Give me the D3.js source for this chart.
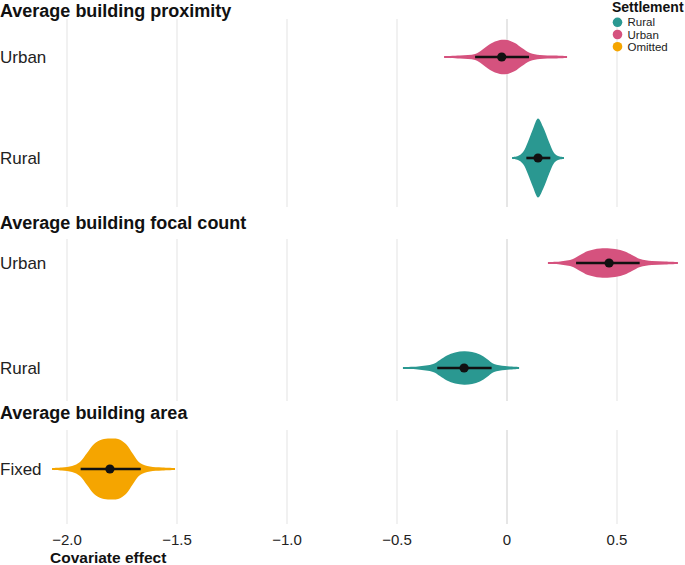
<!DOCTYPE html>
<html>
<head>
<meta charset="utf-8">
<script src="https://cdn.jsdelivr.net/npm/d3@7/dist/d3.min.js"></script>
<style>
  html, body { margin: 0; padding: 0; background: #fff; }
  svg { display: block; font-family: "Liberation Sans", Arial, Helvetica, sans-serif; }
</style>
</head>
<body>
<svg id="chart" width="685" height="565"></svg>
<script>
// ---------- DATA ----------
const panelTitles = ["Average building proximity", "Average building focal count", "Average building area"];
const panelRows = [["Urban", "Rural"], ["Urban", "Rural"], ["Fixed"]];
const rowSettlement = [["Urban", "Rural"], ["Urban", "Rural"], ["Omitted"]];

const legendLabels = ["Rural", "Urban", "Omitted"];

const tickValues = [-2.0, -1.5, -1.0, -0.5, 0, 0.5];
const tickLabels = ["\u22122.0", "\u22121.5", "\u22121.0", "\u22120.5", "0", "0.5"];

// point estimates and interval ends
const estimates = [[-0.024, 0.141], [0.464, -0.195], [-1.805]];
const lowerEnds = [[-0.145, 0.088], [0.314, -0.317], [-1.938]];
const upperEnds = [[0.100, 0.197], [0.603, -0.070], [-1.665]];

// density profiles: [value, density]
const densProxUrban = [[-0.286,0.10],[-0.214,0.15],[-0.145,0.30],[-0.114,0.70],[-0.077,1.30],[-0.032,1.70],[0.000,1.70],[0.036,1.40],[0.068,0.90],[0.105,0.40],[0.150,0.20],[0.218,0.15],[0.273,0.10]];
const densProxRural = [[0.023,0.10],[0.050,0.20],[0.073,0.60],[0.095,1.60],[0.118,2.90],[0.141,3.95],[0.164,3.10],[0.191,1.60],[0.214,0.50],[0.232,0.20],[0.259,0.10]];
const densFocalUrban = [[0.186,0.10],[0.241,0.15],[0.300,0.40],[0.332,0.80],[0.368,1.20],[0.423,1.45],[0.491,1.40],[0.536,1.15],[0.568,0.80],[0.605,0.40],[0.659,0.20],[0.718,0.15],[0.777,0.10]];
const densFocalRural = [[-0.473,0.10],[-0.405,0.15],[-0.336,0.40],[-0.305,0.80],[-0.273,1.25],[-0.236,1.55],[-0.195,1.67],[-0.159,1.60],[-0.123,1.35],[-0.091,0.90],[-0.059,0.40],[-0.009,0.20],[0.055,0.10]];
const densAreaFixed = [[-2.068,0.10],[-2.023,0.15],[-1.977,0.30],[-1.941,0.70],[-1.909,1.60],[-1.877,2.50],[-1.841,2.95],[-1.805,3.05],[-1.768,3.00],[-1.732,2.50],[-1.700,1.50],[-1.668,0.60],[-1.623,0.25],[-1.568,0.15],[-1.509,0.10]];
const densities = [[densProxUrban, densProxRural], [densFocalUrban, densFocalRural], [densAreaFixed]];

// ---------- STYLE / LAYOUT ----------
const colors = { Rural: "#2a9891", Urban: "#d5527e", Omitted: "#f5a500" };
const panelLayout = [
  { top: 19, bottom: 207, rowRange: [57, 158], titleY: 16.5 },
  { top: 239, bottom: 401, rowRange: [263, 368], titleY: 228.5 },
  { top: 430, bottom: 524, rowRange: [469, 469], titleY: 418.5 }
];

const svg = d3.select("#chart");
const x = d3.scaleLinear().domain([-2, 0.5]).range([67, 617]);
const w = d3.scaleLinear().domain([0, 4]).range([0, 40]);

panelTitles.forEach((title, p) => {
  const L = panelLayout[p];
  const g = svg.append("g");
  g.selectAll("line.grid").data(tickValues).join("line")
    .attr("x1", d => x(d)).attr("x2", d => x(d))
    .attr("y1", L.top).attr("y2", L.bottom)
    .attr("stroke", d => d === 0 ? "#d6d6d6" : "#e8e8e8")
    .attr("stroke-width", 1.2);
  g.append("text").attr("x", 0).attr("y", L.titleY)
    .attr("font-size", 18).attr("font-weight", "bold").attr("fill", "#111")
    .text(title);
  const y = d3.scalePoint().domain(panelRows[p]).range(L.rowRange);
  panelRows[p].forEach((row, r) => {
    const cy = y(row);
    const col = colors[rowSettlement[p][r]];
    g.append("text").attr("x", 0).attr("y", cy).attr("dy", "0.36em")
      .attr("font-size", 17).attr("fill", "#222").text(row);
    const area = d3.area()
      .x(d => x(d[0]))
      .y0(d => cy - w(d[1]))
      .y1(d => cy + w(d[1]))
      .curve(d3.curveCatmullRom.alpha(0.5));
    g.append("path").datum(densities[p][r]).attr("d", area).attr("fill", col);
    g.append("line")
      .attr("x1", x(lowerEnds[p][r])).attr("x2", x(upperEnds[p][r]))
      .attr("y1", cy).attr("y2", cy)
      .attr("stroke", "#111").attr("stroke-width", 2.6);
    g.append("circle").attr("cx", x(estimates[p][r])).attr("cy", cy).attr("r", 4.6).attr("fill", "#111");
  });
});

// x axis labels
svg.append("g").selectAll("text").data(tickValues).join("text")
  .attr("x", d => x(d)).attr("y", 544.5)
  .attr("text-anchor", "middle").attr("font-size", 15).attr("fill", "#222")
  .text((d, i) => tickLabels[i]);
svg.append("text").attr("x", 50).attr("y", 563)
  .attr("font-size", 15.5).attr("font-weight", "bold").attr("fill", "#111")
  .text("Covariate effect");

// legend
const lg = svg.append("g");
lg.append("text").attr("x", 612).attr("y", 12).attr("font-size", 14).attr("font-weight", "bold").attr("fill", "#111").text("Settlement");
legendLabels.forEach((lab, i) => {
  const cy = 22.3 + i * 12.2;
  lg.append("circle").attr("cx", 617.5).attr("cy", cy).attr("r", 4.8).attr("fill", colors[lab]);
  lg.append("text").attr("x", 627.5).attr("y", cy).attr("dy", "0.36em").attr("font-size", 11.5).attr("fill", "#222").text(lab);
});
</script>
</body>
</html>
